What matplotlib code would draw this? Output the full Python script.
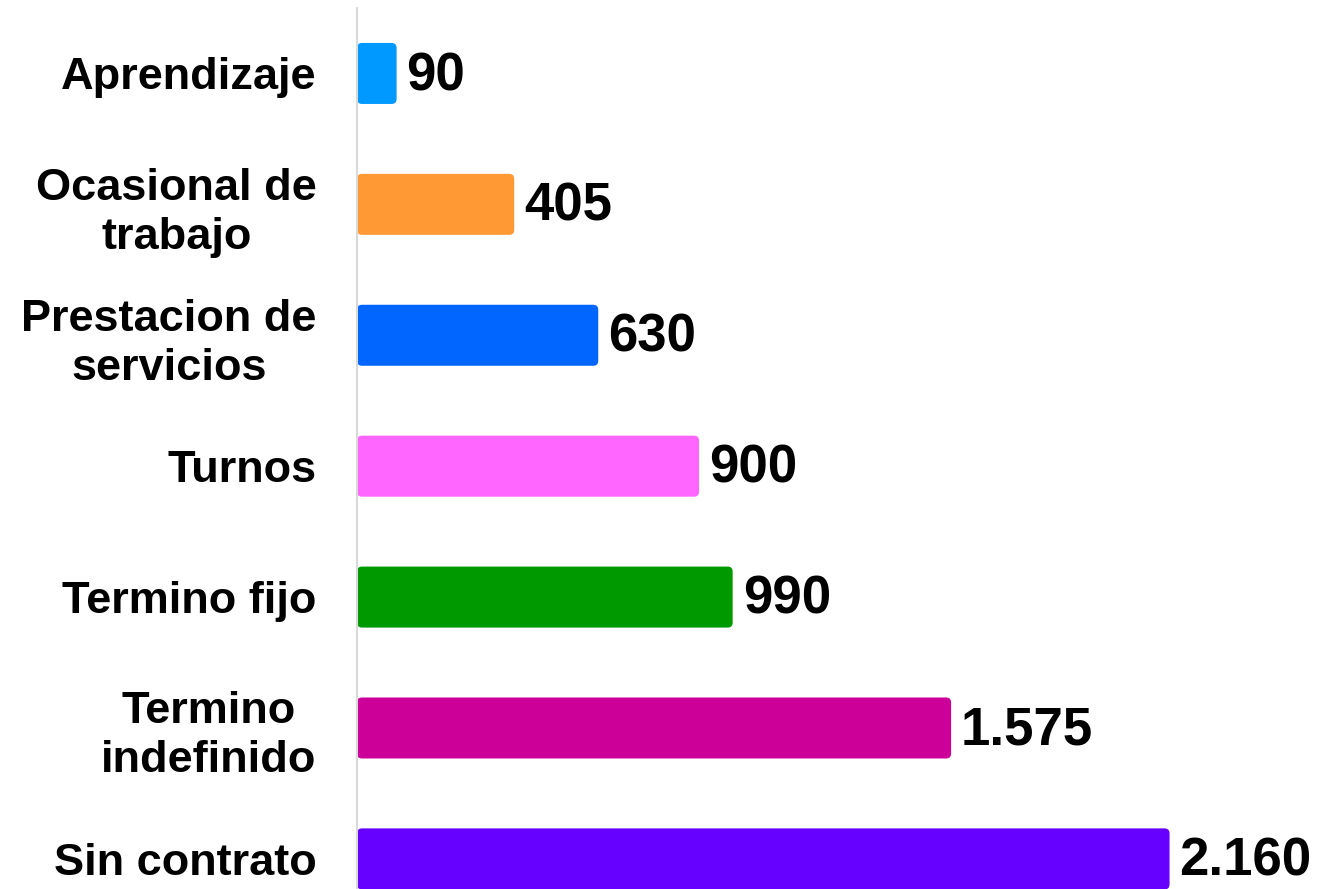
import matplotlib.pyplot as plt
from matplotlib.patches import FancyBboxPatch

categories = ["Aprendizaje", "Ocasional de\ntrabajo", "Prestacion de\nservicios", "Turnos",
              "Termino fijo", "Termino\nindefinido", "Sin contrato"]
values = [90, 405, 630, 900, 990, 1575, 2160]
colors = ["#0099FF", "#FF9933", "#0066FF", "#FF66FF", "#009900", "#CC0099", "#6600FF"]

plt.rcParams['font.family'] = ['Liberation Sans', 'DejaVu Sans']

fig = plt.figure(figsize=(13.35, 8.89), dpi=100)
ax = fig.add_axes([357 / 1335, 0, 1 - 357 / 1335, 1 - 8 / 889])

# bars grow from a point a few px right of the spine in the original
px_x = 1 / 0.3734
x0 = -6 * px_x
xmax = x0 + (1335 - 357) * px_x
ax.set_xlim(x0, xmax)
ax.set_ylim(6.23, -0.5)

h = 0.466
px_y = 6.73 / 881
for i, (v, c) in enumerate(zip(values, colors)):
    bar = FancyBboxPatch((x0, i - h / 2), v - x0, h,
                         boxstyle="round,pad=0,rounding_size=%f" % (5 * px_x),
                         mutation_aspect=px_y / px_x,
                         fc=c, ec="none", clip_on=False)
    ax.add_patch(bar)
    label = "{:,}".format(v).replace(",", ".")
    ax.text(v + 10 * px_x, i + 0.02, label, va="center", ha="left",
            fontsize=38, fontweight="bold", color="black")

ax.set_yticks(range(len(categories)))
ax.set_yticklabels(categories, fontsize=32.5, fontweight="bold", ha="right",
                   multialignment="center", linespacing=1.25)
ax.tick_params(axis="y", length=0, pad=29)
ax.set_xticks([])

for s in ["top", "right", "bottom"]:
    ax.spines[s].set_visible(False)
ax.spines["left"].set_color("#D9D9D9")
ax.spines["left"].set_linewidth(1.5)
ax.spines["left"].set_zorder(3)

fig.savefig("out.png", dpi=100)
